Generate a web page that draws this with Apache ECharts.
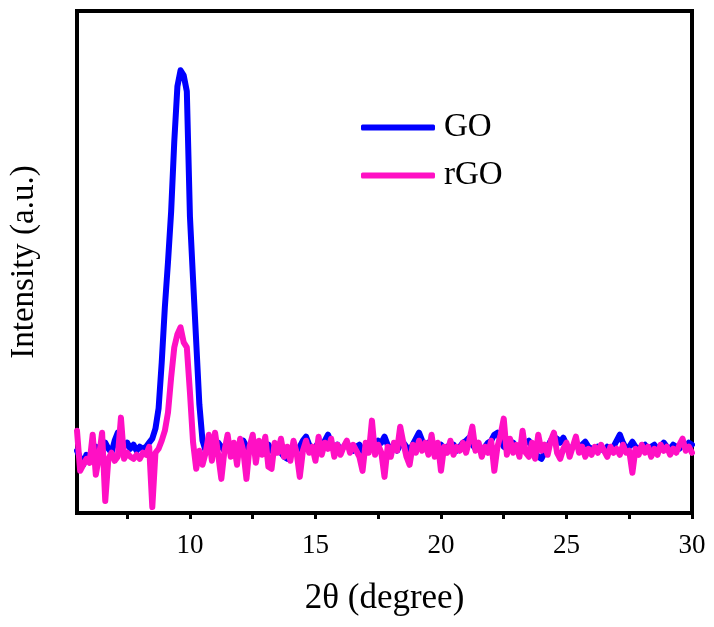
<!DOCTYPE html>
<html>
<head>
    <meta charset="UTF-8" />
    <script src="https://cdn.jsdelivr.net/npm/echarts@6/dist/echarts.min.js"></script>
    <style>
        html, body { margin: 0; padding: 0; background: #fff; }
        #chart-xrd { width: 714px; height: 627px; }
    </style>
</head>
<body>
    <div id="chart-xrd"></div>

    <script type="text/javascript">
        // 2θ sampling grid: 5.5° to 30° every 0.125°
        var thetaStart = 5.5;
        var thetaStep = 0.125;

        // GO intensity (a.u.), one row per degree
        var goIntensity = [
            62, 55, 48, 58,
            54, 62, 66, 60, 66, 70, 64, 60,
            72, 80, 74, 66, 70, 64, 68, 62,
            66, 64, 66, 70, 74, 84, 104, 150,
            205, 250, 300, 370, 425, 441, 436, 420,
            295, 232, 170, 108, 72, 62, 64, 60,
            66, 70, 66, 62, 68, 64, 66, 62,
            70, 72, 66, 62, 66, 70, 64, 60,
            64, 68, 62, 60, 64, 60, 56, 54,
            60, 64, 62, 66, 72, 76, 68, 62,
            66, 70, 66, 72, 78, 70, 64, 68,
            62, 66, 70, 64, 62, 66, 68, 62,
            66, 70, 64, 68, 72, 70, 76, 68,
            64, 66, 62, 68, 70, 66, 62, 68,
            74, 80, 72, 66, 70, 64, 62, 66,
            68, 62, 66, 64, 68, 62, 66, 70,
            72, 75, 68, 64, 66, 62, 66, 70,
            72, 78, 80, 72, 66, 64, 66, 70,
            66, 62, 66, 70, 72, 66, 60, 56,
            54, 60, 66, 72, 76, 74, 70, 75,
            68, 64, 66, 68, 64, 68, 71, 66,
            64, 62, 66, 64, 62, 66, 64, 66,
            72, 78, 70, 64, 66, 71, 66, 64,
            66, 68, 64, 66, 68, 64, 66, 70,
            66, 64, 68, 66, 64, 68, 66, 70,
            68
        ];

        // rGO intensity (a.u.), one row per degree
        var rgoIntensity = [
            82, 42, 48, 54,
            50, 78, 38, 56, 80, 12, 54, 60,
            52, 56, 95, 54, 60, 56, 54, 58,
            54, 60, 58, 66, 6, 60, 64, 72,
            82, 100, 135, 165, 178, 185, 170, 165,
            120, 70, 44, 62, 48, 60, 78, 52,
            80, 58, 34, 62, 78, 56, 70, 48,
            74, 62, 34, 66, 78, 50, 72, 58,
            76, 46, 44, 70, 60, 74, 56, 66,
            52, 72, 60, 36, 62, 72, 60, 66,
            52, 76, 58, 70, 64, 74, 56, 68,
            58, 66, 72, 60, 68, 62, 56, 42,
            70, 60, 92, 58, 68, 60, 36, 66,
            56, 70, 62, 86, 70, 56, 48, 68,
            60, 72, 62, 70, 58, 78, 56, 70,
            42, 66, 60, 72, 58, 66, 62, 70,
            60, 72, 86, 62, 70, 56, 66, 60,
            72, 42, 66, 78, 94, 58, 74, 60,
            68, 56, 82, 60, 56, 70, 54, 78,
            62, 68, 58, 72, 80, 60, 54, 64,
            70, 56, 66, 76, 60, 66, 56, 64,
            58, 66, 60, 68, 62, 56, 66, 60,
            64, 58, 68, 60, 62, 40, 64, 58,
            68, 60, 66, 56, 64, 58, 68, 62,
            66, 58, 64, 60, 68, 74, 62, 66,
            60
        ];

        var xLabels = [10, 15, 20, 25, 30];
        var xTicks = [7.5, 10, 12.5, 15, 17.5, 20, 22.5, 25, 27.5, 30];
        var seriesNames = ['GO', 'rGO'];

        function pairUp(values) {
            var out = [];
            for (var i = 0; i < values.length; i++) {
                out.push([thetaStart + i * thetaStep, values[i]]);
            }
            return out;
        }

        var chartXrd = echarts.init(document.getElementById('chart-xrd'));
        var serif = 'Liberation Serif';

        var optionXrd = {
            animation: false,
            color: ['#0000ff', '#ff10c4'],
            grid: {
                left: 75,
                right: 22,
                top: 11,
                bottom: 114,
                show: true,
                borderColor: '#000',
                borderWidth: 4
            },
            legend: {
                data: seriesNames,
                orient: 'vertical',
                left: 356,
                top: 106,
                itemWidth: 74,
                itemHeight: 6,
                itemGap: 15,
                icon: 'roundRect',
                textStyle: { fontFamily: serif, fontSize: 33, color: '#000', padding: [0, 0, 0, 4] }
            },
            xAxis: {
                type: 'value',
                min: 5.5,
                max: 30,
                name: '2θ (degree)',
                nameLocation: 'middle',
                nameGap: 68,
                nameTextStyle: { fontFamily: serif, fontSize: 35, color: '#000' },
                axisLine: { show: true, lineStyle: { color: '#000', width: 4 } },
                axisTick: { show: true, inside: false, length: 6, customValues: xTicks, lineStyle: { color: '#000', width: 3 } },
                axisLabel: { customValues: xLabels, fontFamily: serif, fontSize: 27, color: '#000', margin: 19 },
                splitLine: { show: false }
            },
            yAxis: {
                type: 'value',
                min: 0,
                max: 500,
                name: 'Intensity (a.u.)',
                nameLocation: 'middle',
                nameGap: 36,
                nameTextStyle: { fontFamily: serif, fontSize: 33, color: '#000' },
                axisLine: { show: true, lineStyle: { color: '#000', width: 4 } },
                axisTick: { show: false },
                axisLabel: { show: false },
                splitLine: { show: false }
            },
            series: [{
                name: 'GO',
                type: 'line',
                data: pairUp(goIntensity),
                showSymbol: false,
                lineStyle: { width: 6, cap: 'round', join: 'round' }
            }, {
                name: 'rGO',
                type: 'line',
                data: pairUp(rgoIntensity),
                showSymbol: false,
                lineStyle: { width: 6, cap: 'round', join: 'round' }
            }]
        };

        chartXrd.setOption(optionXrd);
    </script>
</body>
</html>
